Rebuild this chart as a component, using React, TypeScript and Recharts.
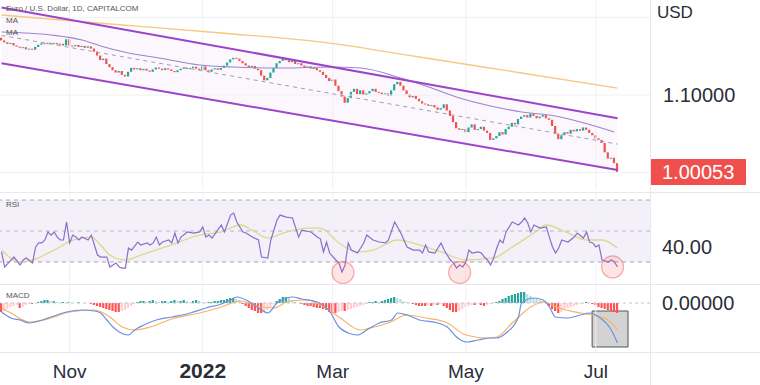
import React from "react";
import {
  ComposedChart,
  Bar,
  Line,
  Area,
  XAxis,
  YAxis,
  ReferenceLine,
  ReferenceArea,
  ReferenceDot,
  Cell,
} from "recharts";

// daily closes, Oct 2021 -> Jul 2022 (open = previous close)
const firstOpen = 1.174;
const closes = [
  1.1705, 1.168, 1.166, 1.1672, 1.164, 1.1625, 1.161, 1.1618, 1.159, 1.1598,
  1.1585, 1.162, 1.165, 1.1668, 1.166, 1.1675, 1.1665, 1.1672, 1.1655, 1.1662,
  1.164, 1.172, 1.164, 1.163, 1.1645, 1.162, 1.1635, 1.161, 1.1628, 1.16,
  1.156, 1.151, 1.145, 1.147, 1.14, 1.136, 1.132, 1.129, 1.131, 1.126,
  1.124, 1.13, 1.135, 1.133, 1.1345, 1.132, 1.1338, 1.1315, 1.13, 1.133,
  1.1355, 1.134, 1.1322, 1.1345, 1.133, 1.131, 1.1295, 1.132, 1.134, 1.1352,
  1.1335, 1.1348, 1.1365, 1.134, 1.1325, 1.137, 1.132, 1.13, 1.133, 1.1345,
  1.1325, 1.135, 1.138, 1.142, 1.146, 1.148, 1.147, 1.144, 1.141, 1.138,
  1.136, 1.1375, 1.134, 1.132, 1.125, 1.119, 1.122, 1.129, 1.135, 1.141,
  1.144, 1.147, 1.145, 1.1425, 1.144, 1.14, 1.141, 1.138, 1.136, 1.137,
  1.134, 1.135, 1.132, 1.13, 1.126, 1.122, 1.118, 1.12, 1.112, 1.105,
  1.098, 1.09, 1.096, 1.104, 1.108, 1.101, 1.106, 1.1, 1.102, 1.105,
  1.108, 1.104, 1.103, 1.101, 1.102, 1.099, 1.106, 1.114, 1.117, 1.112,
  1.106, 1.101, 1.097, 1.099, 1.095, 1.092, 1.089, 1.088, 1.086, 1.087,
  1.084, 1.081, 1.083, 1.088, 1.08, 1.073, 1.065, 1.057, 1.055, 1.056,
  1.052, 1.058, 1.062, 1.055, 1.056, 1.059, 1.054, 1.051, 1.042, 1.044,
  1.047, 1.052, 1.049, 1.056, 1.059, 1.064, 1.062, 1.069, 1.072, 1.074,
  1.071, 1.076, 1.073, 1.07, 1.072, 1.074, 1.07, 1.068, 1.06, 1.05,
  1.043, 1.048, 1.052, 1.05, 1.055, 1.053, 1.056, 1.054, 1.058, 1.055,
  1.051, 1.048, 1.044, 1.042, 1.038, 1.026, 1.018, 1.019, 1.012, 1.00053,
];

// [bar index, price]
const channelUpper = [[0, 1.213], [199, 1.07]];
const channelLower = [[0, 1.1409], [199, 1.0031]];
const channelMid = [[0, 1.177], [199, 1.0366]];
const maFast = [
  [0, 1.1814], [16, 1.1775], [26, 1.171], [32, 1.1633], [41, 1.1542], [51, 1.1478],
  [64, 1.1387], [75, 1.1361], [91, 1.1348], [106, 1.1361], [116, 1.1348], [129, 1.1219],
  [138, 1.1103], [148, 1.0961], [161, 1.0832], [168, 1.078], [177, 1.0741], [187, 1.0651],
  [198, 1.0522],
];
const maSlow = [
  [0, 1.2033], [35, 1.1917], [71, 1.1801], [106, 1.1671], [135, 1.1491], [168, 1.1284], [199, 1.109],
];

// RSI [bar index, value]
const rsiPts = [
  [0, 36.5], [1, 26.8], [3, 31], [4, 33.2], [6, 28.1], [7, 31.3], [8, 32.6], [10, 29.4],
  [11, 39.7], [12, 42.3], [13, 42.3], [14, 44.2], [15, 49.4], [16, 47.4], [17, 49.4], [18, 46.1],
  [19, 44.2], [20, 44.2], [21, 55.8], [22, 42.3], [23, 47.4], [24, 46.1], [25, 44.2], [26, 46.1],
  [28, 44.2], [29, 47.4], [30, 41], [31, 34.5], [32, 33.2], [34, 33.2], [35, 26.8], [37, 29.4],
  [38, 26.8], [39, 26.1], [40, 26.1], [41, 39], [42, 37.7], [44, 42.9], [45, 41], [47, 42.3],
  [48, 41], [49, 42.3], [50, 46.1], [51, 41], [52, 42.9], [54, 44.2], [55, 42.3], [56, 48.7],
  [57, 42.3], [58, 46.1], [60, 49.4], [62, 48.7], [64, 49.4], [65, 52.6], [66, 46.1], [67, 47.4],
  [68, 45.5], [71, 53.9], [72, 49.4], [74, 60.3], [75, 61.6], [76, 55.8], [78, 49.4], [79, 48.7],
  [81, 46.1], [83, 44.2], [84, 33.2], [86, 32.6], [87, 44.2], [89, 57.1], [90, 60.3], [92, 59],
  [94, 58.4], [96, 46.1], [97, 50.6], [100, 49.4], [102, 46.1], [103, 45], [104, 36.5], [105, 42.9],
  [106, 35.8], [108, 31.3], [109, 29.4], [110, 23.5], [111, 28.1], [112, 42.3], [113, 37.7], [115, 35.8],
  [117, 42.3], [118, 47.4], [120, 44.2], [122, 42.9], [124, 42.3], [125, 44.2], [127, 55.8], [129, 48.7],
  [131, 39.7], [133, 37.7], [135, 37.7], [136, 35.8], [137, 41], [138, 36.5], [140, 35.8], [142, 42.3],
  [143, 37.7], [145, 31.3], [146, 29.4], [147, 26.1], [148, 28.1], [149, 26.8], [150, 30], [151, 37.7],
  [152, 35.8], [154, 36.5], [155, 35.8], [156, 33.2], [157, 31.3], [158, 28.1], [159, 32.6], [160, 39],
  [161, 44.2], [162, 42.3], [163, 49.4], [165, 55.8], [167, 53.9], [168, 55.8], [169, 58.4], [170, 55.2],
  [171, 49.4], [172, 53.9], [174, 51.9], [176, 52.6], [177, 46.1], [178, 39.7], [179, 35.8], [180, 39],
  [181, 44.2], [183, 42.9], [185, 46.1], [186, 48.7], [188, 45.5], [189, 49.4], [190, 42.9], [191, 42.3],
  [192, 39.7], [193, 41], [194, 31.3], [196, 30], [197, 31.3], [198, 30], [199, 26.8],
];
const rsiMaPts = [
  [0, 37.7], [6, 30], [10, 31.3], [17, 37.7], [23, 44.2], [29, 46.1], [32, 41], [35, 34.5],
  [40, 31.3], [45, 34.5], [53, 39.7], [64, 47.4], [71, 49.4], [77, 53.9], [81, 50.6], [86, 45.5],
  [91, 48.7], [99, 51.9], [103, 51.9], [109, 42.3], [115, 36.5], [120, 37.7], [128, 44.2], [135, 41],
  [142, 36.5], [150, 31.3], [159, 32.6], [165, 39.7], [172, 48.7], [176, 53.9], [183, 48.7], [189, 44.2],
  [194, 44.2], [199, 39],
];
const rsiCircles = [[110.3, 23.2], [148, 23.2], [197.4, 26.8]];

// MACD [bar index, value]
const macdPts = [
  [0, -0.0027], [3, -0.0045], [6, -0.0051], [9, -0.006], [11, -0.0057], [16, -0.0042], [21, -0.0027],
  [26, -0.0021], [30, -0.0024], [32, -0.003], [34, -0.0051], [36, -0.0072], [38, -0.0087], [41, -0.0096],
  [43, -0.0081], [46, -0.0066], [50, -0.0051], [55, -0.0042], [61, -0.003], [66, -0.0015], [71, -0.0003],
  [74, 0.0009], [76, 0.0018], [79, 0.0009], [84, -0.0021], [86, -0.003], [89, 0], [92, 0.0015],
  [94, 0.0018], [97, 0.0012], [102, 0.0003], [106, -0.0025], [109, -0.0072], [112, -0.009], [115, -0.0096],
  [118, -0.0081], [122, -0.006], [126, -0.0051], [128, -0.003], [131, -0.0036], [135, -0.0051], [141, -0.006],
  [144, -0.0072], [147, -0.0102], [150, -0.0117], [154, -0.0111], [158, -0.0105], [160, -0.0105], [163, -0.009],
  [167, -0.0042], [168, 0], [172, 0.0015], [175, 0.0009], [177, -0.0012], [179, -0.0042], [183, -0.0045],
  [187, -0.0036], [190, -0.003], [193, -0.0042], [197, -0.0081], [199, -0.012],
];
const signalPts = [
  [0, -0.0015], [3, -0.003], [9, -0.0057], [16, -0.0045], [22, -0.0027], [30, -0.0021], [35, -0.0042],
  [39, -0.0072], [43, -0.0081], [48, -0.0072], [55, -0.0048], [64, -0.003], [71, -0.0012], [77, 0.0006],
  [84, -0.0012], [88, -0.0015], [93, 0.0006], [99, 0.0009], [103, -0.0006], [109, -0.0042], [116, -0.0081],
  [119, -0.0075], [125, -0.006], [131, -0.0036], [137, -0.0045], [144, -0.006], [150, -0.0096], [157, -0.0105],
  [160, -0.0102], [165, -0.006], [171, -0.0012], [175, 0.0003], [180, -0.0015], [187, -0.003], [191, -0.0036],
  [196, -0.0051], [199, -0.0081],
];
const hist = [
  -0.0027, -0.0024, -0.0018, -0.0012, -0.0009, -0.0006, -0.0015, -0.0012, -0.0006, -0.0003,
  -0.0003, 0, 0.0003, 0.0006, 0.0009, 0.0009, 0.0006, 0.0006, 0.0003, 0,
  0.0003, 0, 0.0003, 0, 0, 0.0003, 0, 0, 0, -0.0003,
  -0.0006, -0.0009, -0.0012, -0.0015, -0.0018, -0.0021, -0.0024, -0.0027, -0.0027, -0.0024,
  -0.0021, -0.0015, -0.0009, -0.0003, 0.0003, 0.0006, 0.0006, 0.0003, 0.0006, 0.0009,
  0.0006, 0.0003, 0.0006, 0.0006, 0.0003, 0.0006, 0.0009, 0.0006, 0.0006, 0.0009,
  0.0006, 0.0003, 0.0006, 0.0009, 0.0006, 0.0003, 0, 0.0003, 0.0003, 0.0006,
  0.0006, 0.0009, 0.0009, 0.0012, 0.0015, 0.0015, 0.0012, 0.0009, -0.0003, -0.0009,
  -0.0015, -0.0021, -0.0024, -0.003, -0.003, -0.0027, -0.0021, -0.0012, -0.0003, 0.0006,
  0.0012, 0.0018, 0.0018, 0.0015, 0.0009, 0.0003, 0, -0.0003, -0.0006, -0.0009,
  -0.0009, -0.0012, -0.0015, -0.0015, -0.0018, -0.0021, -0.0027, -0.003, -0.003, -0.0027,
  -0.0024, -0.0024, -0.0021, -0.0018, -0.0015, -0.0012, -0.0009, -0.0006, -0.0003, 0.0003,
  0.0003, 0.0006, 0.0003, 0.0006, 0.0009, 0.0012, 0.0015, 0.0018, 0.0015, 0.0012,
  0.0006, 0.0003, 0, -0.0003, -0.0006, -0.0009, -0.0009, -0.0009, -0.0006, -0.0009,
  -0.0006, -0.0006, -0.0003, -0.0009, -0.0015, -0.0021, -0.0027, -0.0027, -0.0024, -0.0018,
  -0.0012, -0.0009, -0.0006, -0.0006, -0.0003, -0.0006, -0.0009, -0.0006, -0.0003, 0,
  0.0003, 0.0006, 0.0012, 0.0015, 0.0021, 0.0024, 0.0027, 0.003, 0.0033, 0.0033,
  0.0027, 0.0021, 0.0015, 0.0012, 0.0009, 0.0006, 0.0003, -0.0009, -0.0018, -0.0024,
  -0.003, -0.0027, -0.0021, -0.0015, -0.0012, -0.0009, -0.0006, -0.0003, 0, 0.0003,
  0, -0.0003, -0.0006, -0.0012, -0.0015, -0.0018, -0.0021, -0.0024, -0.0027, -0.003,
];
const macdBox = { x1: 190.8, x2: 202.4, y1: -0.0024, y2: -0.0132 };

const monthTicks = [22, 65, 107, 150, 192];
const monthLabels = ["Nov", "2022", "Mar", "May", "Jul"];

const GREEN = "#26a69a";
const RED = "#ef5350";
const FONT = "'Liberation Sans', Arial, sans-serif";
const X_DOMAIN = [-0.5, 209.5];

const rows = (pts) => pts.map(([i, v]) => ({ i, v }));

const priceRows = closes.map((c, i) => {
  const o = i === 0 ? firstOpen : closes[i - 1];
  return { i, body: [Math.min(o, c), Math.max(o, c)], rise: c >= o };
});
const channelRows = channelLower.map(([i, lo], k) => ({ i, v: [lo, channelUpper[k][1]] }));

const macdRows = hist.map((h, i) => {
  const prev = i === 0 ? h : hist[i - 1];
  let color;
  if (h >= 0) color = h >= prev ? GREEN : "#b2dfdb";
  else color = h <= prev ? "#ff5252" : "#ffcdd2";
  return { i, hist: h, color };
});

const Candle = (props) => {
  const { x, y, width, height, payload } = props;
  const h = Math.max(1, Math.abs(height));
  const top = height < 0 ? y + height : y;
  return <rect x={x} y={top} width={width} height={h} fill={payload.rise ? GREEN : RED} />;
};

const PriceTick = (props) => {
  const { y, payload } = props;
  if (payload.value === closes[closes.length - 1]) {
    return (
      <g>
        <rect x={651} y={y - 13} width={95} height={26} fill="#f04f4d" />
        <text x={662} y={y} dy={7} fontSize={20} fill="#fff" fontFamily={FONT}>
          {payload.value.toFixed(5)}
        </text>
      </g>
    );
  }
  return (
    <text x={663} y={y} dy={7} fontSize={20} fill="#2a2e39" fontFamily={FONT}>
      {payload.value.toFixed(5)}
    </text>
  );
};

const ValueTick = (props) => {
  const { y, payload, digits } = props;
  return (
    <text x={662} y={y} dy={7} fontSize={20} fill="#2a2e39" fontFamily={FONT}>
      {payload.value.toFixed(digits)}
    </text>
  );
};

const MonthTick = (props) => {
  const { x, payload } = props;
  const label = monthLabels[monthTicks.indexOf(payload.value)];
  const bold = label === "2022";
  return (
    <text
      x={x}
      y={93}
      textAnchor="middle"
      fontSize={bold ? 21 : 19}
      fontWeight={bold ? 700 : 400}
      fill="#2a2e39"
      fontFamily={FONT}
    >
      {label}
    </text>
  );
};

const vGrid = monthTicks.map((t) => (
  <ReferenceLine key={`g${t}`} x={t} stroke="#eef0f4" strokeWidth={1} />
));

const lineProps = { dataKey: "v", dot: false, activeDot: false, isAnimationActive: false };

const smallLabel = (text, top) => (
  <div
    style={{
      position: "absolute",
      left: 6,
      top,
      fontSize: 8,
      color: "#555",
      fontFamily: FONT,
      lineHeight: "10px",
      whiteSpace: "nowrap",
    }}
  >
    {text}
  </div>
);

const hLine = (top) => (
  <div style={{ position: "absolute", left: 0, top, width: 760, height: 1, background: "#e6e8ee" }} />
);

export default function App() {
  return (
    <div
      style={{
        position: "relative",
        width: 760,
        height: 385,
        background: "#fff",
        overflow: "hidden",
        fontFamily: FONT,
      }}
    >
      <style>{`body{margin:0}`}</style>

      {/* price panel */}
      <div style={{ position: "absolute", left: 0, top: 0 }}>
        <ComposedChart width={760} height={190} data={priceRows} margin={{ top: 0, right: 0, bottom: 0, left: 0 }}>
          <XAxis dataKey="i" type="number" domain={X_DOMAIN} hide />
          <YAxis
            orientation="right"
            width={110}
            domain={[0.9773, 1.2227]}
            ticks={[1.1, closes[closes.length - 1]]}
            tick={<PriceTick />}
            axisLine={false}
            tickLine={false}
            allowDataOverflow
            interval={0}
          />
          {vGrid}
          <ReferenceLine y={1.2} stroke="#eef0f4" />
          <ReferenceLine y={1.1} stroke="#eef0f4" />
          <ReferenceLine y={1.0} stroke="#eef0f4" />
          <Area
            data={channelRows}
            dataKey="v"
            type="linear"
            stroke="none"
            fill="#9c27b0"
            fillOpacity={0.035}
            dot={false}
            activeDot={false}
            isAnimationActive={false}
          />
          <Line {...lineProps} data={rows(maSlow)} type="monotone" stroke="#f6c882" strokeWidth={1.3} />
          <Line {...lineProps} data={rows(maFast)} type="monotone" stroke="#9a86cf" strokeWidth={1.1} />
          <Line {...lineProps} data={rows(channelMid)} type="linear" stroke="#9aa0b0" strokeWidth={1} strokeDasharray="4 4" />
          <Line {...lineProps} data={rows(channelUpper)} type="linear" stroke="#9c45c9" strokeWidth={2} />
          <Line {...lineProps} data={rows(channelLower)} type="linear" stroke="#9c45c9" strokeWidth={2} />
          <Bar dataKey="body" barSize={2.2} shape={<Candle />} isAnimationActive={false} />
        </ComposedChart>
      </div>

      {/* RSI panel */}
      <div style={{ position: "absolute", left: 0, top: 192 }}>
        <ComposedChart width={760} height={92} data={rows(rsiPts)} margin={{ top: 0, right: 0, bottom: 0, left: 0 }}>
          <XAxis dataKey="i" type="number" domain={X_DOMAIN} hide />
          <YAxis
            orientation="right"
            width={110}
            domain={[15.8, 75.2]}
            ticks={[40]}
            tick={<ValueTick digits={2} />}
            axisLine={false}
            tickLine={false}
            allowDataOverflow
          />
          {vGrid}
          <ReferenceArea y1={30} y2={70} fill="#7e57c2" fillOpacity={0.09} stroke="none" />
          <ReferenceLine y={70} stroke="#a3a6b4" strokeDasharray="4 4" />
          <ReferenceLine y={50} stroke="#b4b7c3" strokeDasharray="4 4" />
          <ReferenceLine y={30} stroke="#a3a6b4" strokeDasharray="4 4" />
          <Line {...lineProps} data={rows(rsiMaPts)} type="monotone" stroke="#dcd98a" strokeWidth={1.3} />
          <Line {...lineProps} type="linear" stroke="#8a6fcb" strokeWidth={1.2} />
          {rsiCircles.map(([x, v], k) => (
            <ReferenceDot
              key={k}
              x={x}
              y={v}
              r={11}
              fill="#ef5350"
              fillOpacity={0.15}
              stroke="#ef5350"
              strokeOpacity={0.45}
              strokeWidth={1.2}
            />
          ))}
        </ComposedChart>
      </div>

      {/* MACD panel */}
      <div style={{ position: "absolute", left: 0, top: 285 }}>
        <ComposedChart width={760} height={100} data={macdRows} margin={{ top: 0, right: 0, bottom: 0, left: 0 }}>
          <XAxis
            dataKey="i"
            type="number"
            domain={X_DOMAIN}
            ticks={monthTicks}
            interval={0}
            tick={<MonthTick />}
            axisLine={false}
            tickLine={false}
            height={33}
          />
          <YAxis
            orientation="right"
            width={110}
            domain={[-0.0147, 0.0054]}
            ticks={[0]}
            tick={<ValueTick digits={5} />}
            axisLine={false}
            tickLine={false}
            allowDataOverflow
          />
          {vGrid}
          <ReferenceLine y={0} stroke="#c3c6cf" strokeDasharray="3 3" />
          <Bar dataKey="hist" barSize={2.2} isAnimationActive={false}>
            {macdRows.map((r) => (
              <Cell key={r.i} fill={r.color} />
            ))}
          </Bar>
          <Line {...lineProps} data={rows(signalPts)} type="monotone" stroke="#f5b463" strokeWidth={1.2} />
          <Line {...lineProps} data={rows(macdPts)} type="monotone" stroke="#6d8fe4" strokeWidth={1.2} />
          <ReferenceArea
            x1={macdBox.x1}
            x2={macdBox.x2}
            y1={macdBox.y1}
            y2={macdBox.y2}
            fill="#9e9e9e"
            fillOpacity={0.45}
            stroke="#555"
            strokeWidth={1}
          />
        </ComposedChart>
      </div>

      {hLine(192)}
      {hLine(284)}
      {hLine(352)}
      <div style={{ position: "absolute", left: 650, top: 0, width: 1, height: 385, background: "#e6e8ee" }} />

      {smallLabel("Euro / U.S. Dollar, 1D, CAPITALCOM", 4)}
      {smallLabel("MA", 16)}
      {smallLabel("MA", 28)}
      {smallLabel("RSI", 200)}
      {smallLabel("MACD", 291)}
      <div style={{ position: "absolute", left: 657, top: 3, fontSize: 17, color: "#2a2e39", fontFamily: FONT }}>
        USD
      </div>
    </div>
  );
}
